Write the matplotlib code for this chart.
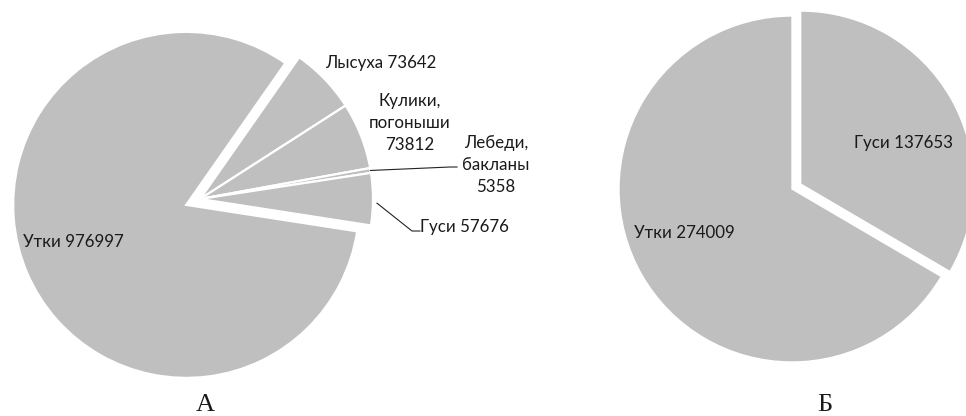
import numpy as np
import matplotlib
matplotlib.use("Agg")
import matplotlib.pyplot as plt

# ---- data ----
left_labels = ["Утки", "Лысуха", "Кулики,\nпогоныши", "Лебеди,\nбакланы", "Гуси"]
left_values = [976997, 73642, 73812, 5358, 57676]
right_labels = ["Утки", "Гуси"]
right_values = [274009, 137653]
panel_titles = ["А", "Б"]

W, H = 966, 416
GRAY = "#BFBFBF"
TXT = "#1a1a1a"
FONT = "Lato"
FS = 12.2

fig = plt.figure(figsize=(W / 100, H / 100), dpi=100)
ax = fig.add_axes([0, 0, 1, 1])
ax.set_axis_off()


def py(y):  # pixel-from-top to data y
    return H - y


R = 173
# left pie
wl, _ = ax.pie(left_values, center=(200, py(199)), radius=R, startangle=-8.8,
               counterclock=False, colors=[GRAY] * len(left_values),
               explode=[15, 0, 0, 0, 0],
               wedgeprops=dict(edgecolor="white", linewidth=1.6))
# right pie
wr, _ = ax.pie(right_values, center=(792, py(189)), radius=R, startangle=90,
               counterclock=True, colors=[GRAY] * len(right_values),
               explode=[0, 10],
               wedgeprops=dict(edgecolor="white", linewidth=1.0))
ax.set_xlim(0, W)
ax.set_ylim(0, H)
ax.set_aspect("equal")


def edge_point(w):
    th = np.deg2rad((w.theta1 + w.theta2) / 2)
    cx, cy = w.center
    return cx + w.r * np.cos(th), cy + w.r * np.sin(th)


txt = dict(fontsize=FS, color=TXT, family=FONT, linespacing=1.45)

# left labels
ax.text(73, py(242), f"{left_labels[0]} {left_values[0]}", ha="center", va="center", **txt)
ax.text(381, py(63), f"{left_labels[1]} {left_values[1]}", ha="center", va="center", **txt)
ax.text(410, py(123), f"{left_labels[2]}\n{left_values[2]}", ha="center", va="center", **txt)
ax.text(496, py(165), f"{left_labels[3]}\n{left_values[3]}", ha="center", va="center", **txt)
ax.text(420, py(227), f"{left_labels[4]} {left_values[4]}", ha="left", va="center", **txt)

# leader lines
x0, y0 = edge_point(wl[3])
ax.plot([x0, 450, 457], [y0, py(167), py(167)], color="#222222", lw=0.8)
x0, y0 = edge_point(wl[4])
ax.plot([x0 + 4, 412, 420], [y0 - 4, py(231), py(231)], color="#222222", lw=0.8)

# right labels
ax.text(684, py(233), f"{right_labels[0]} {right_values[0]}", ha="center", va="center", **txt)
ax.text(904, py(143), f"{right_labels[1]} {right_values[1]}", ha="center", va="center", **txt)

# panel letters
ax.text(205, py(405), panel_titles[0], ha="center", va="center", fontsize=19,
        family="Liberation Serif", color=TXT)
ax.text(825, py(405), panel_titles[1], ha="center", va="center", fontsize=19,
        family="Liberation Serif", color=TXT)

fig.savefig("out.png", dpi=100)
